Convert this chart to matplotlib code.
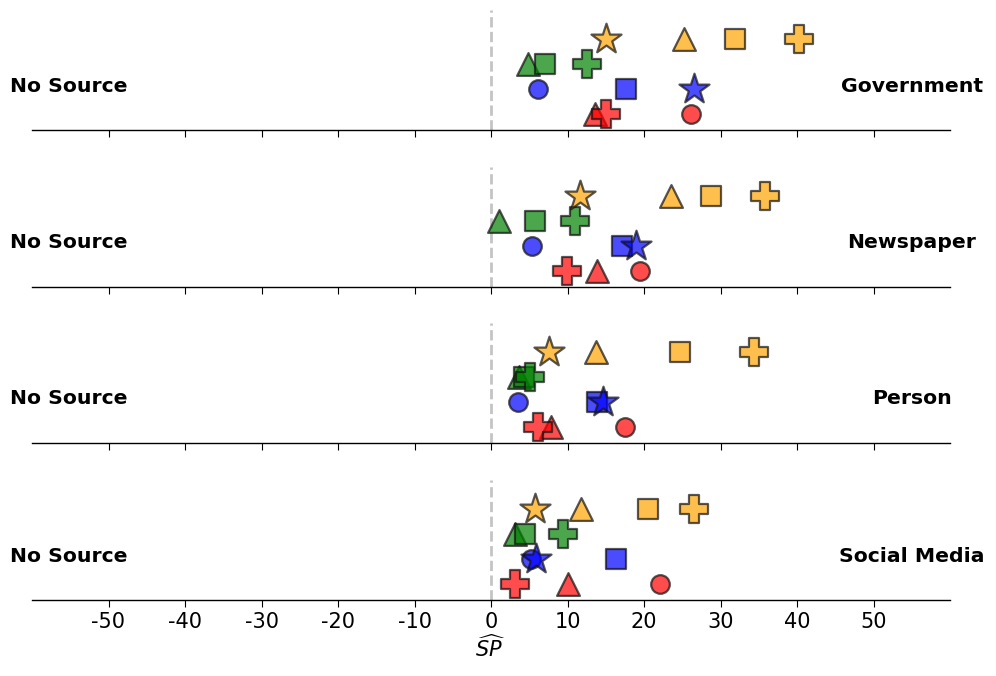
import numpy as np
import matplotlib
matplotlib.use("Agg")
import matplotlib.pyplot as plt

plt.rcParams['axes.unicode_minus'] = False

nan = np.nan

panels = ["Government", "Newspaper", "Person", "Social Media"]
baseline = "No Source"

# columns: circle, triangle, square, plus, star
marker_kinds = ['o', '^', 's', 'P', '*']

red = [
    [26.1, 13.6, nan, 15.0, nan],
    [19.5, 13.8, nan, 9.9, nan],
    [17.5, 7.9, nan, 6.1, nan],
    [22.1, 10.1, nan, 3.2, nan],
]
blue = [
    [6.2, nan, 17.7, nan, 26.5],
    [5.4, nan, 17.1, nan, 19.0],
    [3.5, nan, 13.9, nan, 14.6],
    [5.2, nan, 16.4, nan, 5.9],
]
green = [
    [nan, 4.9, 7.1, 12.5, nan],
    [nan, 1.1, 5.8, 11.0, nan],
    [nan, 3.7, 4.3, 5.1, nan],
    [nan, 3.2, 4.4, 9.4, nan],
]
orange = [
    [nan, 25.2, 31.9, 40.2, 15.0],
    [nan, 23.5, 28.8, 35.8, 11.6],
    [nan, 13.7, 24.7, 34.4, 7.6],
    [nan, 11.8, 20.5, 26.5, 5.8],
]

groups = [(red, 'red'), (blue, 'blue'), (green, 'green'), (orange, 'orange')]
sizes = {'o': 180, '^': 270, 's': 210, 'P': 420, '*': 520}

fig = plt.figure(figsize=(9.96, 6.76), dpi=100)

left, width = 32 / 996, (950 - 32) / 996
height = 120 / 676
bottoms = [130, 287, 443, 600]

for i, name in enumerate(panels):
    ax = fig.add_axes([left, (676 - bottoms[i]) / 676, width, height])
    ax.axvline(0, color='#c4c4c4', linestyle='--', linewidth=2, zorder=0)
    for level, (vals, col) in enumerate(groups):
        for j, m in enumerate(marker_kinds):
            x = vals[i][j]
            if np.isnan(x):
                continue
            ax.scatter([x], [level], marker=m, s=sizes[m], color=col, alpha=0.7,
                       edgecolors='#111111', linewidths=1.6, zorder=3)
    ax.set_xlim(-60, 60)
    ax.set_ylim(-0.64, 4.16)
    ax.set_xticks(np.arange(-50, 51, 10))
    ax.set_yticks([])
    for s in ['top', 'right', 'left']:
        ax.spines[s].set_visible(False)
    ax.spines['bottom'].set_linewidth(1.0)
    ax.tick_params(axis='x', length=5, labelsize=15)
    if i < len(panels) - 1:
        ax.set_xticklabels([])
    else:
        ax.set_xlabel(r'$\widehat{SP}$', fontsize=15, labelpad=2)
    ycen = (676 - bottoms[i] + 44) / 676
    fig.text(69 / 996, ycen, baseline, ha='center', va='center',
             fontsize=14.7, fontweight='bold')
    fig.text(912 / 996, ycen, name, ha='center', va='center',
             fontsize=14.7, fontweight='bold')

fig.savefig("out.png", dpi=100)
